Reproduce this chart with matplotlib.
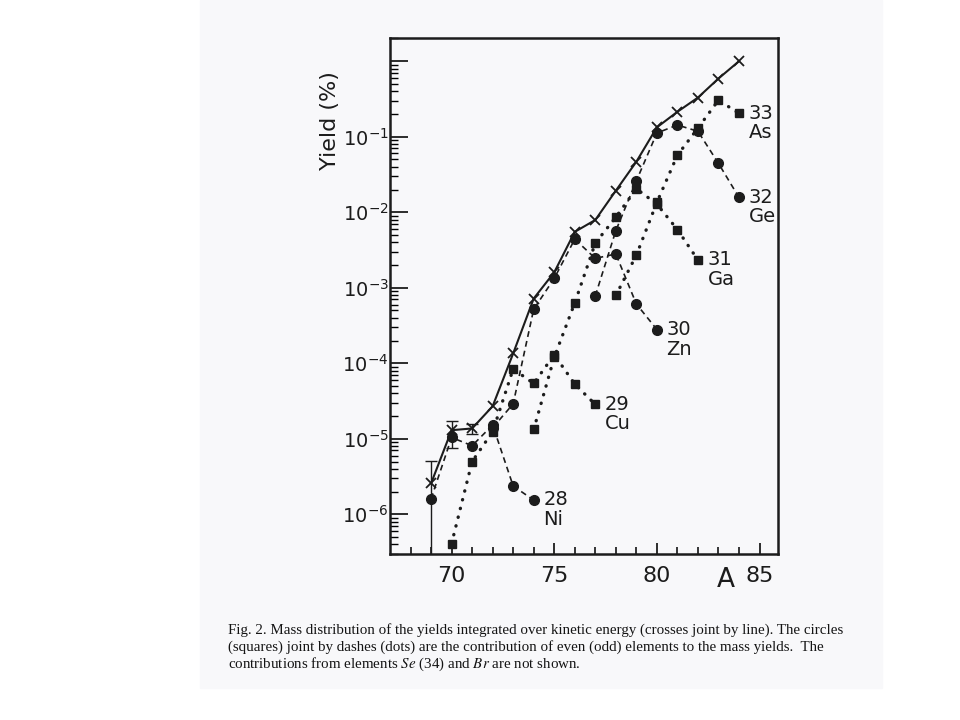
import numpy as np
import matplotlib.pyplot as plt
from matplotlib.patches import Rectangle
from matplotlib.ticker import FixedLocator, FuncFormatter, LogLocator, NullFormatter

# total yield (crosses joined by line)
a_tot = [69, 70, 71, 72, 73, 74, 75, 76, 77, 78, 79, 80, 81, 82, 83, 84]
y_tot = [2.56e-6, 1.3e-5, 1.37e-5, 2.7e-5, 1.35e-4, 7.2e-4, 1.6e-3, 5.5e-3,
         7.9e-3, 0.0193, 0.0467, 0.133, 0.214, 0.33, 0.59, 1.0]
a_err = [69, 70, 71]
err_lo = [1e-7, 7.5e-6, 1.15e-5]
err_hi = [5.1e-6, 1.7e-5, 1.55e-5]

# even elements (circles, dashes)
a_ni = [69, 70, 71, 72, 73, 74]
y_ni = [1.6e-6, 1.04e-5, 8.1e-6, 1.52e-5, 2.37e-6, 1.54e-6]
a_zn = [72, 73, 74, 75, 76, 77, 78, 79, 80]
y_zn = [1.4e-5, 2.9e-5, 5.2e-4, 1.33e-3, 4.4e-3, 2.45e-3, 2.8e-3, 6.1e-4, 2.8e-4]
a_ge = [77, 78, 79, 80, 81, 82, 83, 84]
y_ge = [7.8e-4, 5.7e-3, 0.026, 0.112, 0.143, 0.118, 0.0444, 0.0157]

# odd elements (squares, dots)
a_cu = [70, 71, 72, 73, 74, 75, 76, 77]
y_cu = [4.1e-7, 5.0e-6, 1.24e-5, 8.4e-5, 5.4e-5, 1.3e-4, 5.3e-5, 2.85e-5]
a_ga = [74, 75, 76, 77, 78, 79, 80, 81, 82]
y_ga = [1.33e-5, 1.2e-4, 6.3e-4, 3.9e-3, 8.6e-3, 0.0205, 0.0128, 5.9e-3, 2.33e-3]
a_as = [78, 79, 80, 81, 82, 83, 84]
y_as = [7.9e-4, 2.7e-3, 0.0135, 0.057, 0.13, 0.305, 0.204]

even = [(a_ni, y_ni, "28", "Ni"), (a_zn, y_zn, "30", "Zn"), (a_ge, y_ge, "32", "Ge")]
odd = [(a_cu, y_cu, "29", "Cu"), (a_ga, y_ga, "31", "Ga"), (a_as, y_as, "33", "As")]

caption = [
    "Fig. 2. Mass distribution of the yields integrated over kinetic energy (crosses joint by line). The circles",
    "(squares) joint by dashes (dots) are the contribution of even (odd) elements to the mass yields.  The",
    "contributions from elements $Se$ (34) and $Br$ are not shown.",
]

ink = "#1c1c1c"

fig = plt.figure(figsize=(9.6, 7.2), dpi=100)
fig.patches.append(Rectangle((200 / 960, 32 / 720), 682 / 960, 688 / 720,
                             transform=fig.transFigure, color="#f8f8fa", zorder=-10))
ax = fig.add_axes([390 / 960, 166 / 720, 388 / 960, 516 / 720])
ax.set_facecolor("none")

for a, y, z, sym in even:
    ax.plot(a, y, ls=(0, (3.5, 2.5)), lw=1.2, color=ink, marker="o", ms=7,
            mfc=ink, mec=ink)
for a, y, z, sym in odd:
    ax.plot(a, y, ls=(0, (0.1, 2.6)), lw=2.4, color=ink, dash_capstyle="round",
            marker="s", ms=5.6, mfc=ink, mec=ink)
for a, y, z, sym in even + odd:
    ax.annotate(z + "\n" + sym, xy=(a[-1], y[-1]), xytext=(7, 7),
                textcoords="offset points", ha="left", va="top", fontsize=14,
                linespacing=1.05, color=ink, annotation_clip=False, clip_on=False,
                zorder=5)

ax.plot(a_tot, y_tot, ls="-", lw=1.5, color=ink, marker="x", ms=6.5, mew=1.3)
yv = np.array(y_tot[:3])
ax.errorbar(a_err, yv, yerr=[yv - np.array(err_lo), np.array(err_hi) - yv],
            fmt="none", ecolor=ink, elinewidth=1.0, capsize=4, capthick=1.0)

ax.set_yscale("log")
ax.set_xlim(67.0, 85.9)
ax.set_ylim(2.98e-7, 2.03)

ax.xaxis.set_major_locator(FixedLocator([70, 75, 80, 85]))
ax.xaxis.set_minor_locator(FixedLocator(list(range(68, 86))))
ax.yaxis.set_major_locator(FixedLocator([1e-6, 1e-5, 1e-4, 1e-3, 1e-2, 1e-1, 1.0]))
ax.yaxis.set_minor_locator(LogLocator(base=10, subs=np.arange(2, 10), numticks=20))
ax.yaxis.set_minor_formatter(NullFormatter())
ax.yaxis.set_major_formatter(FuncFormatter(
    lambda v, p: "" if v >= 1 else r"$10^{%d}$" % int(round(np.log10(v)))))

ax.tick_params(axis="x", which="major", direction="in", length=8, width=1.3,
               labelsize=16, pad=9, colors=ink, top=False)
ax.tick_params(axis="x", which="minor", direction="in", length=5, width=1.1, top=False)
ax.tick_params(axis="y", which="major", direction="in", length=13, width=1.3,
               labelsize=14, pad=1, colors=ink, right=False)
ax.tick_params(axis="y", which="minor", direction="in", length=6, width=1.0, right=False)
for s in ax.spines.values():
    s.set_linewidth(1.8)
    s.set_color(ink)

ax.set_ylabel("Yield (%)", fontsize=16, color=ink)
ax.yaxis.set_label_coords(-0.128, 0.84)
ax.set_xlabel("A", fontsize=19, color=ink)
ax.xaxis.set_label_coords(0.865, -0.025)
ax.xaxis.label.set_va("top")

for i, line in enumerate(caption):
    fig.text(228 / 960, 1 - (630 + 17 * i) / 720, line, ha="left", va="center",
             fontsize=10.8, family="Liberation Serif", math_fontfamily="stix",
             color="#141414")

fig.savefig("out.png", dpi=100)
